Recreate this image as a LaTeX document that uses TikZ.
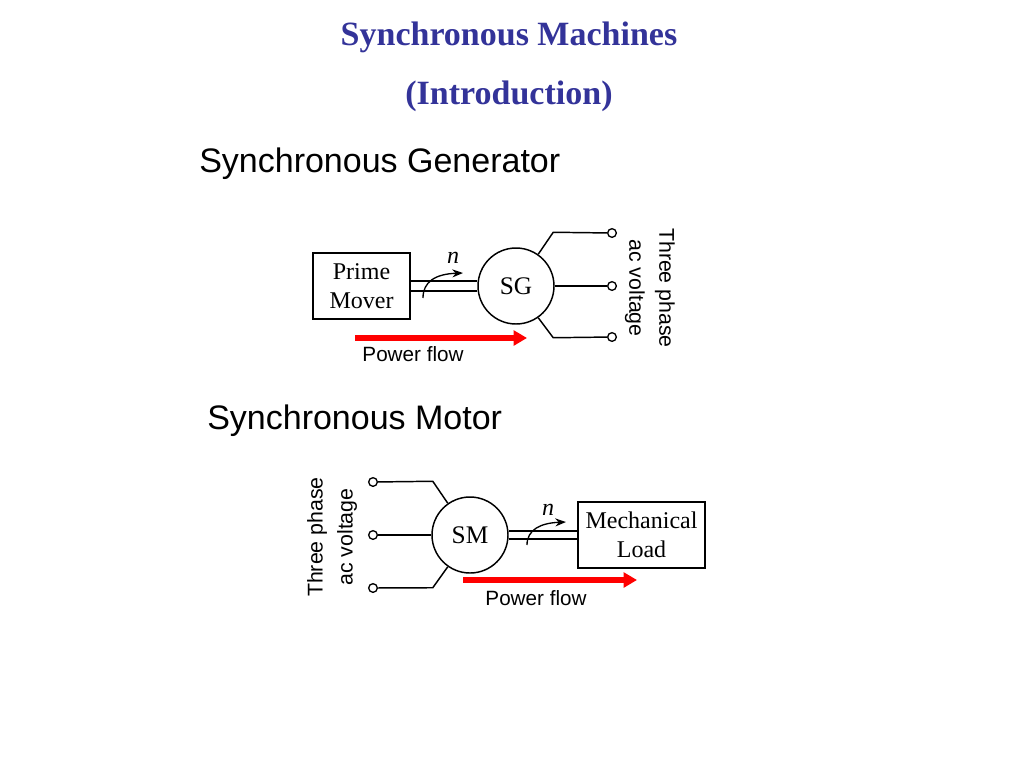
\documentclass[tikz,border=0pt]{standalone}
\usepackage{fontspec}
\setmainfont{Liberation Serif}
\setsansfont{Liberation Sans}
\usetikzlibrary{arrows.meta}
\definecolor{titleblue}{RGB}{51,51,153}
\definecolor{flowred}{RGB}{255,0,0}

\begin{document}
\begin{tikzpicture}[x = 0.75pt, y = -0.75pt,
    title/.style = {font = \bfseries\fontsize{25.5}{30}\selectfont, text = titleblue},
    heading/.style = {anchor = west, inner sep = 0pt, font = \sffamily\fontsize{25.5}{30}\selectfont},
    block/.style = {shape = rectangle, draw, line width = 1.6pt, align = center,
        minimum height = 50pt, font = \fontsize{18}{22}\selectfont},
    machine/.style = {shape = circle, draw, line width = 1.1pt, minimum size = 57pt,
        inner sep = 0pt, font = \fontsize{19}{22}\selectfont},
    terminal/.style = {shape = circle, draw, line width = 1pt, minimum size = 6.5pt, inner sep = 0pt},
    lead/.style = {line width = 1.1pt},
    shaft/.style = {line width = 1pt},
    speed/.style = {line width = 1pt, -{Stealth[length = 8pt, width = 6pt]}},
    flow/.style = {line width = 4pt, draw = flowred, -{Triangle[length = 10pt, width = 11pt]}},
    flowlabel/.style = {font = \sffamily\fontsize{15.5}{18}\selectfont},
    speedlabel/.style = {font = \itshape\fontsize{18}{20}\selectfont},
    phases/.style = {align = center, font = \sffamily\fontsize{16}{22.5}\selectfont}]
    \useasboundingbox (0,0) rectangle (1024,768);

    \node[title] (title) at (509,37) {Synchronous Machines};
    \node[title] (intro) at (509,96) {(Introduction)};
    \node[heading] (gen) at (199,164) {Synchronous Generator};
    \node[heading] (mot) at (207,421) {Synchronous Motor};

    % generator
    \node[block, minimum width = 73pt] (pm) at (361.5,286) {Prime\\Mover};
    \node[machine] (sg) at (516,286) {SG};
    \node[terminal] (ga) at (612,233) {};
    \node[terminal] (gb) at (612,286) {};
    \node[terminal] (gc) at (612,337) {};
    \node[phases, rotate = -90] (gv) at (650,288) {Three phase\\ac voltage};
    \draw[lead] (sg.55) -- ++(15,-22) -- (ga);
    \draw[lead] (sg.east) -- (gb);
    \draw[lead] (sg.-55) -- ++(15,20) -- (gc);
    \draw[shaft] ([yshift = 3.75pt]pm.east) -- ([yshift = 3.75pt]pm.east -| sg.west);
    \draw[shaft] ([yshift = -3.75pt]pm.east) -- ([yshift = -3.75pt]pm.east -| sg.west);
    \coordinate (gn1) at (423,298);
    \coordinate (gn2) at (463,273);
    \draw[speed] (gn1) .. controls (423,282) and (435,274) .. (gn2);
    \node[speedlabel] (gn) at (453,258) {n};
    \coordinate (gf1) at (355,338);
    \coordinate (gf2) at (527,338);
    \draw[flow] (gf1) -- (gf2);
    \node[flowlabel] (gfl) at (413,354) {Power flow};

    % motor
    \node[terminal] (ma) at (373,482) {};
    \node[terminal] (mb) at (373,535) {};
    \node[terminal] (mc) at (373,588) {};
    \node[phases, rotate = 90] (mv) at (332,537) {Three phase\\ac voltage};
    \node[machine] (sm) at (470,535) {SM};
    \node[block, minimum width = 95.5pt] (ml) at (641.5,535) {Mechanical\\Load};
    \draw[lead] (sm.125) -- ++(-15,-22) -- (ma);
    \draw[lead] (sm.west) -- (mb);
    \draw[lead] (sm.-125) -- ++(-15,21) -- (mc);
    \draw[shaft] ([yshift = 3pt]ml.west) -- ([yshift = 3pt]ml.west -| sm.east);
    \draw[shaft] ([yshift = -3pt]ml.west) -- ([yshift = -3pt]ml.west -| sm.east);
    \coordinate (mn1) at (527,545);
    \coordinate (mn2) at (566,522);
    \draw[speed] (mn1) .. controls (527,530) and (540,523) .. (mn2);
    \node[speedlabel] (mn) at (548,510) {n};
    \coordinate (mf1) at (463,580);
    \coordinate (mf2) at (637,580);
    \draw[flow] (mf1) -- (mf2);
    \node[flowlabel] (mfl) at (536,598) {Power flow};
\end{tikzpicture}
\end{document}
